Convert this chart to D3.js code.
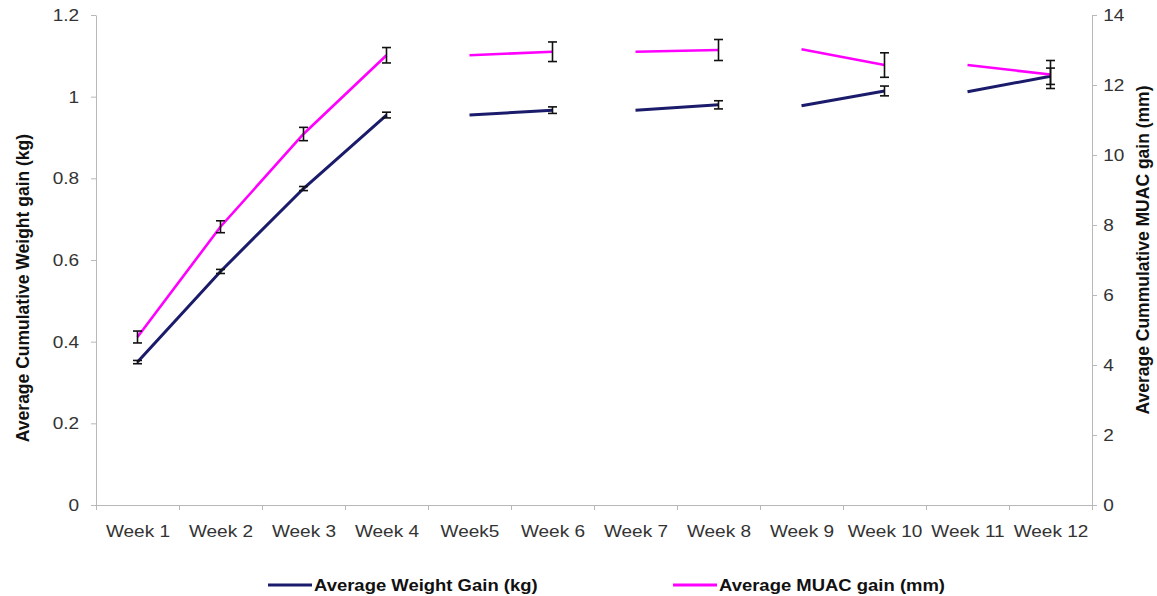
<!DOCTYPE html>
<html lang="en">
  <head>
    <meta charset="utf-8">
    <title>Weight and MUAC gain</title>
    <script type="text/javascript" src="https://d3js.org/d3.v7.min.js"></script>
    <style>
      body { margin: 0; background: #fff; }
      text { font-family: "Liberation Sans", Arial, sans-serif; }
    </style>
  </head>
  <body>
    <script type="text/javascript">
    var w = 1157;
    var h = 596;

    var weeks = ["Week 1", "Week 2", "Week 3", "Week 4", "Week5", "Week 6",
                 "Week 7", "Week 8", "Week 9", "Week 10", "Week 11", "Week 12"];
    var weightGain = [0.35, 0.572, 0.775, 0.955, 0.955, 0.967, 0.967, 0.98, 0.978, 1.014, 1.012, 1.05];
    var weightErr  = [0.004, 0.005, 0.005, 0.007, null, 0.008, null, 0.01, null, 0.012, null, 0.02];
    var muacGain = [4.8, 7.95, 10.6, 12.85, 12.85, 12.95, 12.95, 13.0, 13.02, 12.57, 12.57, 12.3];
    var muacErr  = [0.17, 0.17, 0.19, 0.22, null, 0.28, null, 0.3, null, 0.35, null, 0.4];
    // the lines are drawn in pieces: first..last week index of each piece
    var pieces = [[0, 3], [4, 5], [6, 7], [8, 9], [10, 11]];
    var leftTicks = [0, 0.2, 0.4, 0.6, 0.8, 1, 1.2];
    var rightTicks = [0, 2, 4, 6, 8, 10, 12, 14];

    var plotLeft = 96, plotRight = 1092, plotTop = 15, plotBottom = 505;
    var navy = "#1b1b6b", pink = "#ff00ff";
    var sx = 1.12; // the picture is a bit wider than tall

    var svg = d3.select("body").append("svg").attr("width", w).attr("height", h);

    var xscale = d3.scalePoint().domain(weeks).range([plotLeft, plotRight]).padding(0.5);
    var xedge = d3.scaleLinear().domain([0, weeks.length]).range([plotLeft, plotRight]);
    var yleft = d3.scaleLinear().domain([0, 1.2]).range([plotBottom, plotTop]);
    var yright = d3.scaleLinear().domain([0, 14]).range([plotBottom, plotTop]);

    function styleAxis(g) {
      g.select(".domain").attr("stroke", "#b8b8b8");
      g.selectAll(".tick line").attr("stroke", "#b8b8b8");
      g.selectAll(".tick text").attr("fill", "#333").style("font-size", "17px")
        .attr("transform", "scale(" + sx + ",1)");
    }

    // x axis: labels at centres, ticks at the band edges
    svg.append("g")
      .attr("transform", "translate(0," + plotBottom + ")")
      .call(d3.axisBottom(xedge).tickValues(d3.range(weeks.length + 1)).tickFormat("").tickSizeInner(5).tickSizeOuter(0))
      .call(styleAxis);
    svg.append("g")
      .attr("transform", "translate(0," + plotBottom + ")")
      .call(d3.axisBottom(xscale).tickSize(0).tickPadding(20))
      .call(function(g) { g.select(".domain").remove(); })
      .call(styleAxis);

    svg.append("g")
      .attr("transform", "translate(" + plotLeft + ",0)")
      .call(d3.axisLeft(yleft).tickValues(leftTicks).tickFormat(d3.format("~g")).tickSizeInner(5).tickSizeOuter(0).tickPadding(10))
      .call(styleAxis);
    svg.append("g")
      .attr("transform", "translate(" + plotRight + ",0)")
      .call(d3.axisRight(yright).tickValues(rightTicks).tickSizeInner(5).tickSizeOuter(0).tickPadding(5))
      .call(styleAxis);

    // axis titles
    svg.append("text")
      .attr("transform", "translate(29,288) rotate(-90)")
      .attr("text-anchor", "middle")
      .style("font-size", "17.5px").style("font-weight", "bold").attr("fill", "#111")
      .text("Average Cumulative Weight gain (kg)");
    svg.append("text")
      .attr("transform", "translate(1149,250) rotate(-90)")
      .attr("text-anchor", "middle")
      .style("font-size", "17.5px").style("font-weight", "bold").attr("fill", "#111")
      .text("Average Cummulative MUAC gain (mm)");

    // lines
    var weightLine = d3.line().x(function(i) { return xscale(weeks[i]); }).y(function(i) { return yleft(weightGain[i]); });
    var muacLine = d3.line().x(function(i) { return xscale(weeks[i]); }).y(function(i) { return yright(muacGain[i]); });
    var idx = pieces.map(function(p) { return d3.range(p[0], p[1] + 1); });

    svg.selectAll("path.weight").data(idx).enter().append("path")
      .attr("class", "weight")
      .attr("d", weightLine)
      .attr("fill", "none").attr("stroke", navy).attr("stroke-width", 3);
    svg.selectAll("path.muac").data(idx).enter().append("path")
      .attr("class", "muac")
      .attr("d", muacLine)
      .attr("fill", "none").attr("stroke", pink).attr("stroke-width", 2.6);

    // error bars
    function errorBars(vals, errs, yscale, cls) {
      var data = d3.range(weeks.length).filter(function(i) { return errs[i] != null; });
      var g = svg.selectAll("g." + cls).data(data).enter().append("g").attr("class", cls)
        .attr("stroke", "#111").attr("stroke-width", 1.6);
      g.append("line")
        .attr("x1", function(i) { return xscale(weeks[i]); })
        .attr("x2", function(i) { return xscale(weeks[i]); })
        .attr("y1", function(i) { return yscale(vals[i] - errs[i]); })
        .attr("y2", function(i) { return yscale(vals[i] + errs[i]); });
      [-1, 1].forEach(function(s) {
        g.append("line")
          .attr("x1", function(i) { return xscale(weeks[i]) - 4.5; })
          .attr("x2", function(i) { return xscale(weeks[i]) + 4.5; })
          .attr("y1", function(i) { return yscale(vals[i] + s * errs[i]); })
          .attr("y2", function(i) { return yscale(vals[i] + s * errs[i]); });
      });
    }
    errorBars(weightGain, weightErr, yleft, "werr");
    errorBars(muacGain, muacErr, yright, "merr");

    // legend
    var legend = [
      {name: "Average Weight Gain (kg)", color: navy, x: 268},
      {name: "Average MUAC gain (mm)", color: pink, x: 673}
    ];
    var lg = svg.selectAll("g.legend").data(legend).enter().append("g")
      .attr("class", "legend")
      .attr("transform", function(d) { return "translate(" + d.x + ",585)"; });
    lg.append("line").attr("x1", 0).attr("x2", 44).attr("y1", 0).attr("y2", 0)
      .attr("stroke", function(d) { return d.color; }).attr("stroke-width", 3);
    lg.append("text")
      .attr("transform", "translate(46,0) scale(" + sx + ",1)")
      .attr("dy", "0.35em")
      .style("font-size", "16.5px").style("font-weight", "bold").attr("fill", "#111")
      .text(function(d) { return d.name; });
    </script>
  </body>
</html>
